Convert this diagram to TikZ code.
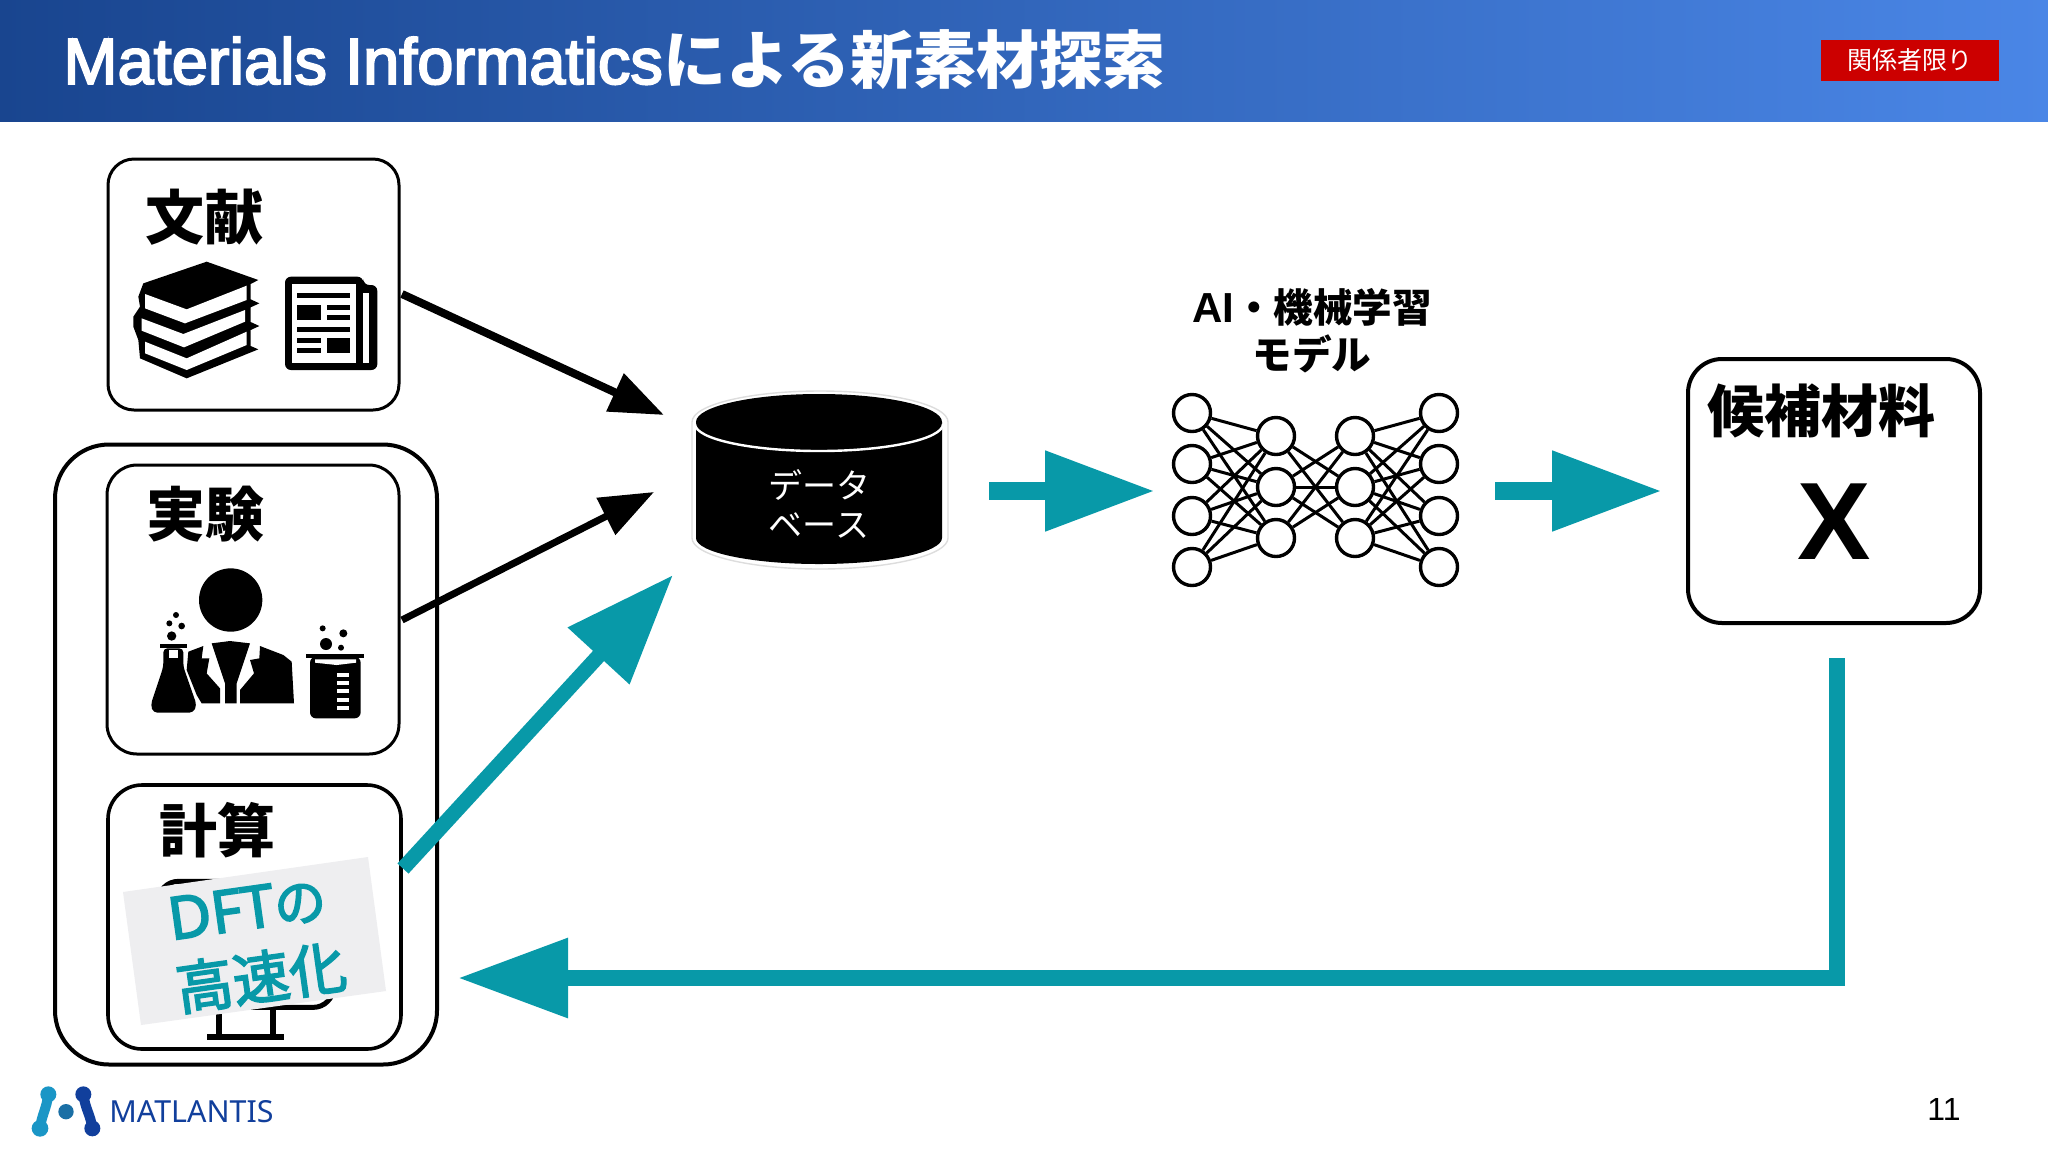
\documentclass[tikz,border=0pt]{standalone}
\usepackage{fontspec}
\usetikzlibrary{arrows.meta}
\setmainfont{Liberation Sans}
\newfontfamily\jp{Noto Sans CJK JP}
\newfontfamily\jpm[FakeBold=3]{Noto Sans CJK JP}
\newfontfamily\ls{Liberation Sans}
\newfontfamily\lsf[FakeBold=3]{Liberation Sans}
\newfontfamily\ns{Noto Sans}
\newfontfamily\nsm[FakeBold=3]{Noto Sans}
\newcommand{\fsz}[1]{\fontsize{#1}{#1}\selectfont}
\definecolor{tealc}{HTML}{0899A8}
\definecolor{headL}{HTML}{19458F}
\definecolor{headR}{HTML}{4A86E6}
\definecolor{redc}{HTML}{CC0000}
\definecolor{stick}{HTML}{EEEEF0}
\definecolor{logoA}{HTML}{1A96C6}
\definecolor{logoB}{HTML}{1A6FA5}
\definecolor{logoC}{HTML}{113F9C}
\definecolor{dbgrey}{HTML}{DDDDDD}
\tikzset{
  boxn/.style={draw=black,line width=1.5pt,fill=white,inner sep=0pt},
  lab/.style={inner sep=0pt,font=\jp\bfseries\fsz{29.5}},
  nn/.style={circle,draw=black,fill=white,line width=1.7pt,minimum size=18.5pt,inner sep=0pt},
  nnl/.style={line width=1.5pt,black},
  blk/.style={line width=4pt,black,-{Triangle[length=27pt,width=20pt]}},
  teal/.style={line width=8pt,tealc,-{Triangle[length=55pt,width=38pt]}},
}
\begin{document}
\begin{tikzpicture}[x=0.5pt,y=-0.5pt]
\useasboundingbox (0,0) rectangle (2048,1152);
\fill[white] (0,0) rectangle (2048,1152);
% header
\shade[left color=headL,right color=headR] (0,0) rectangle (2048,121.5);
\node[anchor=west,inner sep=0pt,text=white] (title) at (63,60)
  {\fsz{32.5}\lsf Materials Informatics{\jp\bfseries\fsz{31.5}による新素材探索}};
\node[fill=redc,minimum width=89pt,minimum height=20.5pt,inner sep=0pt,text=white,font=\jp\fsz{12.5}] (limited) at (1910,60.5) {関係者限り};
% boxes
\node[draw=black,line width=2pt,rounded corners=27pt,minimum width=191pt,minimum height=310pt,inner sep=0pt] (outer) at (246,754.5) {};
\node[boxn,rounded corners=13pt,minimum width=145.5pt,minimum height=125.5pt] (lit) at (253.5,284.5) {};
\node[boxn,rounded corners=15pt,minimum width=146pt,minimum height=144.5pt] (exp) at (253,609.5) {};
\node[boxn,line width=1.8pt,rounded corners=17pt,minimum width=146.5pt,minimum height=132pt] (calc) at (254.5,917) {};
\node[lab] (tlit) at (204.5,217.5) {文献};
\node[lab] (texp) at (205,514) {実験};
\node[lab,font=\jp\bfseries\fsz{29}] (tcalc) at (217,830) {計算};
% book icon
\begin{scope}[shift={(90,140)},x=0.16667pt,y=-0.16667pt]
\fill[black] (350,365)--(505,420)--(482,432)--(482,478)--(508,490)--(482,502)--(482,546)--(508,558)--(482,570)--(482,618)--(505,628)--(290,715)--(150,655)--(145,600)--(130,560)--(130,530)--(150,500)--(145,470)--(160,430)--cycle;
\fill[white] (165,462)--(290,508)--(470,437)--(470,480)--(285,550)--(165,505)--cycle;
\fill[white] (155,535)--(280,582)--(465,510)--(465,545)--(282,622)--(155,572)--cycle;
\fill[white] (165,605)--(290,655)--(470,575)--(470,615)--(290,690)--(165,640)--cycle;
% newspaper
\fill[black,rounded corners=3pt] (585,410)--(820,410)--(820,435)--(862,435)--(862,690)--(585,690)--cycle;
\fill[white] (605,432) rectangle (798,668);
\fill[white] (820,458) rectangle (838,668);
\fill[black] (622,460) rectangle (780,475);
\fill[black] (622,495) rectangle (692,540);
\fill[black] (712,495) rectangle (780,510);
\fill[black] (712,525) rectangle (780,540);
\fill[black] (622,560) rectangle (780,575);
\fill[black] (622,595) rectangle (692,610);
\fill[black] (622,625) rectangle (692,640);
\fill[black] (712,595) rectangle (780,640);
\end{scope}
% scientist icon
\begin{scope}[shift={(50,440)},x=0.16667pt,y=-0.16667pt]
\fill[black] (542,480) circle [radius=95];
\fill[black] (415,635)--(460,618)--(455,655)--(478,655)--(470,700)--(510,745)--(510,790)--(455,790)--(440,765)--(410,690)--cycle;
\fill[black] (630,618)--(700,645)--(725,665)--(732,790)--(570,790)--(570,750)--(612,700)--(600,660)--(628,655)--cycle;
\fill[black] (485,610)--(540,603)--(600,610)--(560,730)--(560,790)--(525,790)--(525,730)--cycle;
\fill[black] (330,612) rectangle (410,625);
\fill[black,rounded corners=2pt] (340,625)--(400,625)--(400,680)--(440,795)--(430,818)--(310,818)--(302,795)--(340,680)--cycle;
\fill[white] (358,630) rectangle (385,655);
\fill[black] (365,588) circle [radius=14];
\fill[black] (358,550) circle [radius=9];
\fill[black] (378,525) circle [radius=9];
\fill[black] (395,558) circle [radius=10];
\fill[black] (768,643) rectangle (942,655);
\fill[black,rounded corners=3pt] (780,650)--(932,650)--(932,835)--(780,835)--cycle;
\fill[white] (795,658)--(918,658)--(918,668)--(860,675)--(795,668)--cycle;
\foreach \yy in {698,723,748,773,798} \fill[white] (862,\yy) rectangle (898,\yy+12);
\fill[black] (828,612) circle [radius=18];
\fill[black] (880,580) circle [radius=12];
\fill[black] (818,565) circle [radius=9];
\fill[black] (873,623) circle [radius=9];
\end{scope}
% monitor and sticker
\begin{scope}[shift={(50,770)},x=0.16667pt,y=-0.16667pt]
\draw[black,line width=2.5pt,fill=white,rounded corners=10pt] (325,334) rectangle (850,712);
\fill[black] (497,715) rectangle (515,800);
\fill[black] (660,715) rectangle (678,800);
\fill[black] (472,792) rectangle (702,810);
\end{scope}
\fill[stick] (123,892)--(368,857)--(386,991)--(141,1025)--cycle;
\node[inner sep=0pt,rotate=8,text=tealc] (dft) at (247,909) {\fsz{29.5}\nsm DFT{\jpm\fsz{26}の}};
\node[inner sep=0pt,rotate=8,text=tealc,font=\jpm\fsz{28.5}] (fast) at (261,977) {高速化};
% database
\draw[dbgrey,line width=0.7pt,fill=white] (692,422) arc[start angle=180,end angle=360,x radius=128,y radius=31] -- (948,538) arc[start angle=0,end angle=180,x radius=128,y radius=31] -- cycle;
\fill[black] (696,422) arc[start angle=180,end angle=360,x radius=123,y radius=28] -- (942,538) arc[start angle=0,end angle=180,x radius=123,y radius=26] -- cycle;
\draw[white,line width=1.2pt] (695,424) arc[start angle=180,end angle=0,x radius=124,y radius=27];
\node[inner sep=0pt,text=white,font=\jp\fsz{17}] (db1) at (819,485) {データ};
\node[inner sep=0pt,text=white,font=\jp\fsz{17}] (db2) at (819,526) {ベース};
\coordinate (dbNW) at (664,415);
\coordinate (dbW) at (654,492);
\coordinate (dbSW) at (673,575);
\coordinate (litE) at (402,294);
\coordinate (expE) at (402,620);
\coordinate (calcE) at (403,868.5);
\draw[blk] (litE) -- (dbNW);
\draw[blk,line width=3.5pt] (expE) -- (dbW);
\draw[tealc,line width=7.5pt,-{Triangle[length=55pt,width=40pt]}] (calcE) -- (dbSW);
% flow arrows
\coordinate (a1s) at (989,491); \coordinate (a1e) at (1155,491);
\coordinate (a2s) at (1495,491); \coordinate (a2e) at (1662,491);
\draw[teal,line width=9pt] (a1s) -- (a1e);
\draw[teal,line width=9pt] (a2s) -- (a2e);
% NN
\node[inner sep=0pt,font=\jp\bfseries\fsz{19.8}] (ai) at (1312,307) {{\ls\bfseries\fsz{21}AI}・機械学習};
\node[inner sep=0pt,font=\jp\bfseries\fsz{19.8}] (model) at (1312,354) {モデル};
\foreach \i/\yy in {1/413,2/464,3/516,4/567}{
  \node[nn] (a\i) at (1192,\yy) {};
  \node[nn] (d\i) at (1439,\yy) {};
}
\foreach \i/\yy in {1/436,2/487,3/538}{
  \node[nn] (b\i) at (1276,\yy) {};
  \node[nn] (c\i) at (1355,\yy) {};
}
\foreach \p/\q in {a1/b1,a1/b2,a1/b3,a2/b1,a2/b2,a2/b3,a3/b1,a3/b2,a3/b3,a4/b1,a4/b2,a4/b3,
  d1/c1,d1/c2,d1/c3,d2/c1,d2/c2,d2/c3,d3/c1,d3/c2,d3/c3,d4/c1,d4/c2,d4/c3,
  b1/c2,b1/c3,b2/c1,b2/c2,b2/c3,b3/c1,b3/c2}
  \draw[nnl] (\p) -- (\q);
% candidate
\node[boxn,line width=2pt,rounded corners=17pt,minimum width=146pt,minimum height=132pt] (cand) at (1834,491) {};
\node[lab,font=\jp\bfseries\fsz{28.5}] (tcand) at (1821,411) {候補材料};
\node[inner sep=0pt,font=\ls\bfseries\fsz{55}] (xx) at (1834,522) {X};
% loop
\coordinate (ls) at (1837,658);
\coordinate (lc) at (1837,978);
\coordinate (le) at (458,978);
\draw[tealc,line width=8pt,-{Triangle[length=55pt,width=38pt]}] (ls) -- (lc) -- (le);
% logo
\begin{scope}[shift={(20,1075)},x=0.16667pt,y=-0.16667pt]
\draw[logoA,line width=5pt,line cap=round] (85,58) .. controls (80,100) and (65,120) .. (60,160);
\fill[logoA] (85,58) circle [radius=24];
\fill[logoA] (60,160) circle [radius=25];
\fill[logoB] (138,110) circle [radius=23];
\draw[logoC,line width=5pt,line cap=round] (190,58) .. controls (195,100) and (212,120) .. (217,160);
\fill[logoC] (190,58) circle [radius=24];
\fill[logoC] (217,160) circle [radius=24];
\end{scope}
\node[anchor=west,inner sep=0pt,text=logoC,font=\ns\fsz{15.2}] (brand) at (109,1112) {MATLANTIS};
\node[inner sep=0pt,font=\ls\fsz{16}] (pg) at (1944,1109) {11};
\end{tikzpicture}
\end{document}
